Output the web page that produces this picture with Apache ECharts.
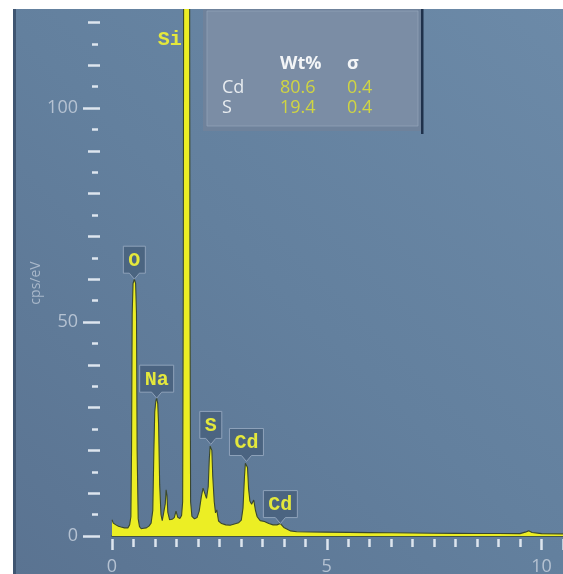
<!DOCTYPE html>
<html>
<head>
<meta charset="utf-8">
<script src="https://cdn.jsdelivr.net/npm/echarts@6/dist/echarts.min.js"></script>
<style>
  html, body { margin: 0; padding: 0; background: #ffffff; }
  #chart { width: 563px; height: 574px; }
</style>
</head>
<body>
<div id="chart"></div>
<script>
// EDS spectrum: energy (keV) and intensity (cps/eV)
const energyKeV = [
  0.00, 0.03, 0.06, 0.09, 0.12, 0.15, 0.18, 0.21, 0.25, 0.29, 0.33, 0.37,
  0.41, 0.44, 0.455, 0.47, 0.49, 0.52, 0.55, 0.57, 0.585, 0.61, 0.64,
  0.68, 0.74, 0.80, 0.86, 0.91, 0.95, 0.975, 0.995, 1.02, 1.04, 1.065, 1.085,
  1.11, 1.14, 1.17, 1.21, 1.24, 1.26, 1.28, 1.30, 1.34, 1.40, 1.45, 1.49,
  1.53, 1.58, 1.62, 1.645, 1.66, 1.675, 1.80, 1.815, 1.83, 1.86, 1.92,
  1.98, 2.03, 2.08, 2.12, 2.16, 2.20, 2.24, 2.265, 2.285, 2.30, 2.325, 2.345,
  2.38, 2.41, 2.44, 2.48, 2.55, 2.65, 2.75, 2.85, 2.95, 3.01, 3.05, 3.085,
  3.105, 3.13, 3.155, 3.18, 3.21, 3.25, 3.30, 3.34, 3.38, 3.45, 3.55, 3.65,
  3.75, 3.84, 3.92, 4.00, 4.08, 4.15, 4.30, 4.60, 5.00, 5.50, 6.00, 6.50,
  7.00, 7.50, 8.00, 8.50, 9.00, 9.50, 9.62, 9.70, 9.78, 10.00, 10.50
];
const countsPerEV = [
  3.8, 3.0, 3.4, 2.6, 3.0, 2.3, 2.7, 2.1, 2.4, 1.9, 2.1, 1.9,
  2.6, 4.5, 20, 52, 59, 60, 59, 52, 20, 4, 2.2,
  1.7, 1.8, 1.9, 2.3, 3.0, 6, 20, 29, 31.5, 32.2, 31, 26,
  12, 5, 3.6, 4.0, 7.5, 10.8, 9.5, 5.5, 3.8, 3.9, 4.3, 5.8,
  4.4, 4.1, 4.8, 8, 60, 200, 200, 60, 8, 4.6, 4.0,
  4.3, 5.8, 9.2, 11.2, 10.8, 8.8, 11.5, 18, 21, 21.4, 20, 14,
  8, 5.4, 6.1, 3.5, 2.9, 2.6, 2.5, 2.8, 3.1, 3.7, 6.5, 14,
  17, 17.4, 16, 11, 8.2, 7.4, 8.4, 6, 4.5, 3.6, 3.4, 2.9,
  2.6, 2.6, 2.9, 2.0, 1.6, 1.2, 1.0, 0.95, 0.9, 0.85, 0.8, 0.75,
  0.7, 0.65, 0.62, 0.6, 0.58, 0.55, 0.9, 1.2, 0.8, 0.55, 0.5
];

// Element lines marked on the spectrum
const peakNames = ['O', 'Na', 'Si', 'S', 'Cd', 'Cd'];
const peakEnergies = [0.52, 1.04, 1.74, 2.30, 3.13, 3.92];

// Quantification table
const quantElements = ['Cd', 'S'];
const quantWtPct = ['80.6', '19.4'];
const quantSigma = ['0.4', '0.4'];

// Axis ranges and tick labels
const X_MIN = 0, X_MAX = 10.5;
const Y_MIN = 0, Y_MAX = 125;
const xTickLabels = [0, 5, 10];
const yTickLabels = [0, 50, 100];
const yAxisTitle = 'cps/eV';

const spectrum = energyKeV.map((e, i) => [e, countsPerEV[i]]);

// anchor each element label on the highest spectrum point near its line
const peakData = peakEnergies.map(e => {
  let h = 0;
  energyKeV.forEach((k, i) => { if (Math.abs(k - e) <= 0.07) h = Math.max(h, countsPerEV[i]); });
  return [e, h];
});

const tickColor = '#dde5ee';
const labelColor = '#b5c2d2';
const uiFont = '"Open Sans", "DejaVu Sans", sans-serif';
const monoFont = '"Liberation Mono", "DejaVu Sans Mono", monospace';

const chart = echarts.init(document.getElementById('chart'), null, { renderer: 'canvas' });

function xAxisBase(extra) {
  return Object.assign({
    type: 'value', min: X_MIN, max: X_MAX, position: 'bottom',
    axisLine: { show: false, onZero: false },
    axisTick: { show: false },
    axisLabel: { show: false },
    splitLine: { show: false }
  }, extra);
}
function yAxisBase(extra) {
  return Object.assign({
    type: 'value', min: Y_MIN, max: Y_MAX, position: 'left',
    axisLine: { show: false, onZero: false },
    axisTick: { show: false },
    axisLabel: { show: false },
    splitLine: { show: false }
  }, extra);
}

const option = {
  animation: false,
  backgroundColor: '#ffffff',
  grid: { left: 112, right: 0, top: 1, bottom: 38, containLabel: false, outerBoundsMode: 'none' },
  xAxis: [
    // baseline under the spectrum
    xAxisBase({ axisLine: { show: true, onZero: false, lineStyle: { color: '#38462f', width: 1.5 } } }),
    // half-keV ticks
    xAxisBase({ interval: 0.5, offset: 3,
      axisTick: { show: true, length: 8, lineStyle: { color: tickColor, width: 2.5 } } }),
    // labelled keV ticks
    xAxisBase({ interval: 5, offset: 3,
      axisTick: { show: true, length: 11, lineStyle: { color: tickColor, width: 2.5 } },
      axisLabel: { show: true, margin: 19, fontSize: 18, fontFamily: uiFont, color: labelColor,
        formatter: v => (xTickLabels.indexOf(v) >= 0 ? String(v) : '') } })
  ],
  yAxis: [
    yAxisBase({ interval: 50, offset: 12,
      axisTick: { show: true, length: 17, lineStyle: { color: tickColor, width: 2.5 } },
      axisLabel: { show: true, margin: 22, fontSize: 18, fontFamily: uiFont, color: labelColor,
        formatter: v => (yTickLabels.indexOf(v) >= 0 ? String(v) : '') } }),
    yAxisBase({ interval: 10, offset: 12,
      axisTick: { show: true, length: 12, lineStyle: { color: tickColor, width: 2.5 } } }),
    yAxisBase({ interval: 5, offset: 14,
      axisTick: { show: true, length: 6, lineStyle: { color: tickColor, width: 2.5 } } })
  ],
  series: [
    {
      type: 'line',
      xAxisIndex: 0, yAxisIndex: 0,
      data: spectrum,
      symbol: 'none',
      smooth: false,
      clip: true,
      silent: true,
      z: 3,
      lineStyle: { color: '#3a472f', width: 1.1 },
      areaStyle: { color: '#ecee24', opacity: 1 }
    },
    {
      type: 'custom',
      xAxisIndex: 0, yAxisIndex: 0,
      data: peakData,
      clip: false,
      silent: true,
      z: 5,
      renderItem: function (params, api) {
        const name = peakNames[params.dataIndex];
        const e = api.value(0), h = api.value(1);
        if (h > Y_MAX) {
          const top = api.coord([e, Y_MAX]);
          return {
            type: 'text',
            style: { text: name, x: top[0] - 17, y: top[1] + 39, align: 'center', verticalAlign: 'middle',
              font: 'bold 20px ' + monoFont, fill: '#e4e83c' }
          };
        }
        const tip = api.coord([e, h]);
        const charW = 12, padX = 5, bh = 27, ph = 6, pw = 5;
        const w = name.length * charW + 2 * padX;
        const x0 = tip[0] - w / 2, y1 = tip[1] - ph, y0 = y1 - bh;
        return {
          type: 'group',
          children: [
            {
              type: 'polygon',
              shape: { points: [[x0, y0], [x0 + w, y0], [x0 + w, y1], [tip[0] + pw, y1], [tip[0], tip[1]],
                [tip[0] - pw, y1], [x0, y1]] },
              style: { fill: 'rgba(72,96,124,0.85)', stroke: '#8fa2ba', lineWidth: 1 }
            },
            {
              type: 'text',
              style: { text: name, x: tip[0], y: (y0 + y1) / 2 + 1, align: 'center', verticalAlign: 'middle',
                font: 'bold 20px ' + monoFont, fill: '#e4e83c' }
            }
          ]
        };
      }
    }
  ],
  graphic: {
    elements: [
      // panel background
      { type: 'rect', z: -10, silent: true, shape: { x: 0, y: 0, width: 563, height: 574 },
        style: { fill: new echarts.graphic.LinearGradient(0, 1, 1, 0, [
          { offset: 0, color: '#5a7391' }, { offset: 0.5, color: '#63809e' }, { offset: 1, color: '#6c8aa8' }]) } },
      // white frame and dark left edge
      { type: 'rect', z: 100, silent: true, shape: { x: 0, y: 0, width: 563, height: 9 }, style: { fill: '#ffffff' } },
      { type: 'rect', z: 100, silent: true, shape: { x: 0, y: 0, width: 13, height: 574 }, style: { fill: '#ffffff' } },
      { type: 'rect', z: 100, silent: true, shape: { x: 13, y: 9, width: 3, height: 565 }, style: { fill: '#3f5571' } },
      // vertical axis title
      { type: 'text', z: 101, silent: true, x: 36, y: 283, rotation: Math.PI / 2,
        style: { text: yAxisTitle, x: 0, y: 0, align: 'center', verticalAlign: 'middle',
          font: '14px ' + uiFont, fill: '#a9b8ca' } },
      // quantification panel
      { type: 'rect', z: 100, silent: true, shape: { x: 203, y: 9, width: 219, height: 122 }, style: { fill: '#6f829b' } },
      { type: 'rect', z: 100, silent: true, shape: { x: 207, y: 11, width: 211, height: 115 },
        style: { fill: '#7b8da5', stroke: 'rgba(150,166,186,0.7)', lineWidth: 1 } },
      { type: 'rect', z: 100, silent: true, shape: { x: 421, y: 9, width: 2.5, height: 125 }, style: { fill: '#1f314b' } },
      { type: 'text', z: 101, silent: true, style: { text: 'Wt%', x: 280, y: 64, align: 'left', verticalAlign: 'middle',
        font: 'bold 18px ' + uiFont, fill: '#f3f5f7' } },
      { type: 'text', z: 101, silent: true, style: { text: 'σ', x: 347, y: 64, align: 'left', verticalAlign: 'middle',
        font: 'bold 18px ' + uiFont, fill: '#f3f5f7' } }
    ].concat(quantElements.flatMap((el, i) => {
      const y = 88 + i * 20;
      return [
        { type: 'text', z: 101, silent: true, style: { text: el, x: 222, y: y, align: 'left', verticalAlign: 'middle',
          font: '18px ' + uiFont, fill: '#e8ecf0' } },
        { type: 'text', z: 101, silent: true, style: { text: quantWtPct[i], x: 280, y: y, align: 'left', verticalAlign: 'middle',
          font: '18px ' + uiFont, fill: '#d0d542' } },
        { type: 'text', z: 101, silent: true, style: { text: quantSigma[i], x: 347, y: y, align: 'left', verticalAlign: 'middle',
          font: '18px ' + uiFont, fill: '#d0d542' } }
      ];
    }))
  }
};

chart.setOption(option);
</script>
</body>
</html>
